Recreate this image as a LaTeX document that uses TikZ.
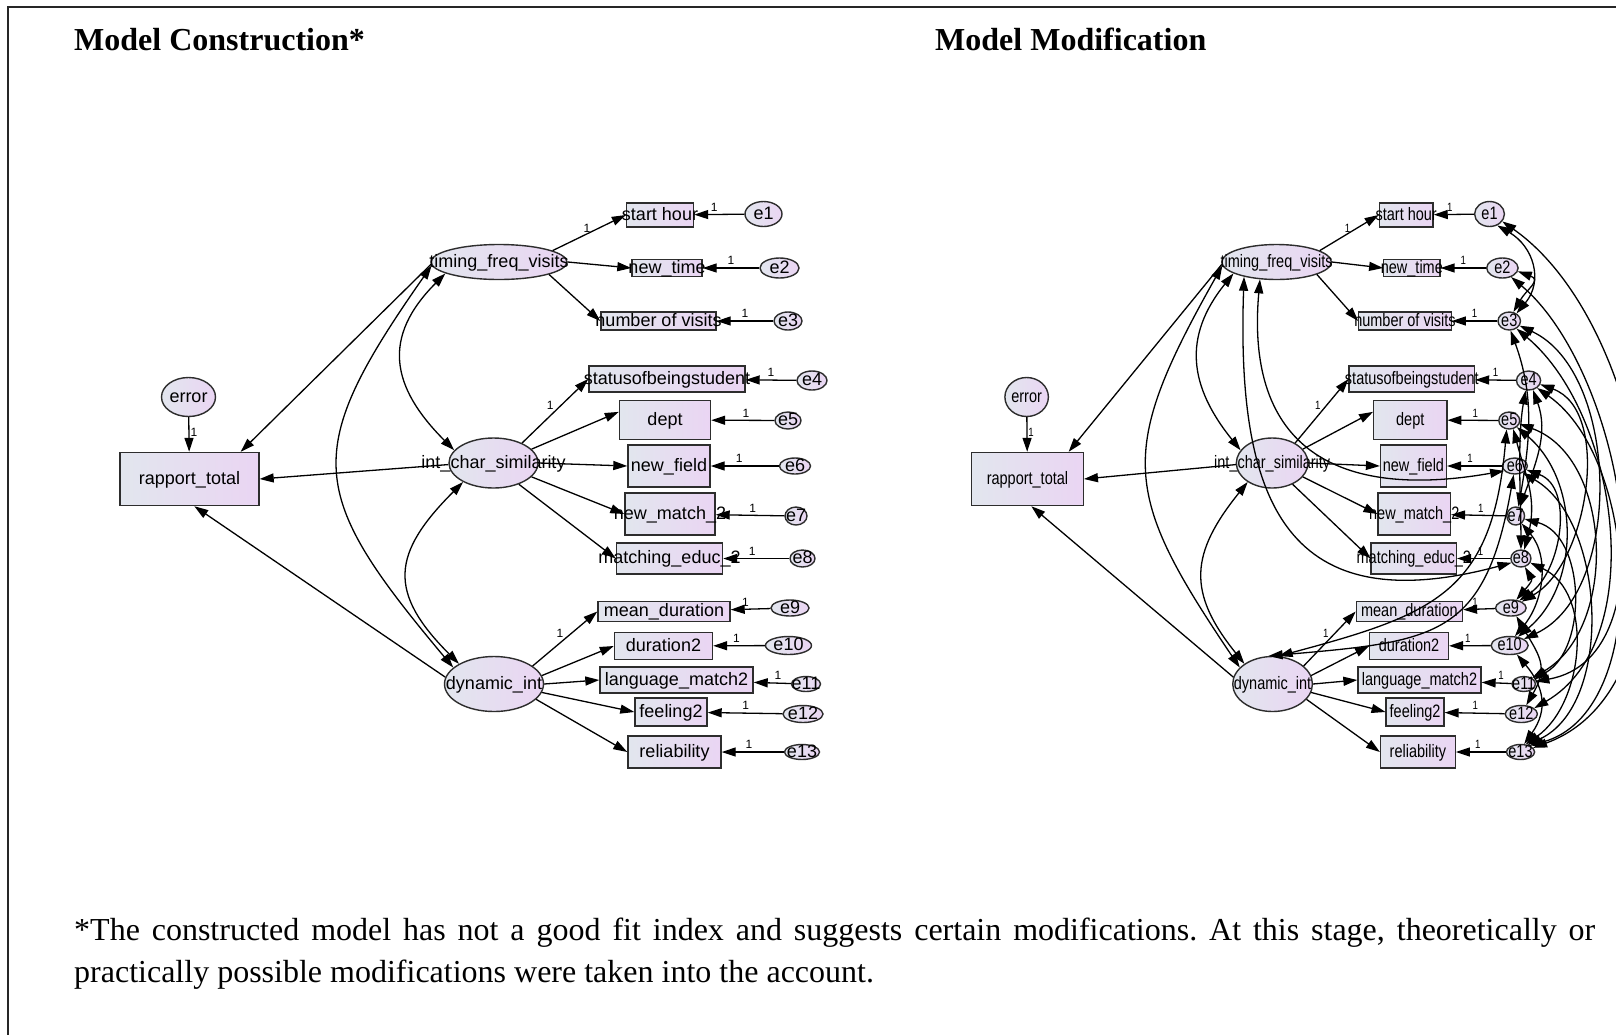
\documentclass[tikz,border=0pt]{standalone}
\usepackage{fontspec}
\setmainfont{Liberation Serif}
\newfontfamily\arialfont{Liberation Sans}
\usetikzlibrary{shapes.geometric,arrows.meta}
\definecolor{gL}{RGB}{226,230,238}
\definecolor{gR}{RGB}{234,213,243}
\definecolor{edgegray}{RGB}{45,45,45}
\frenchspacing
\newcommand\semtxt[1]{\raisebox{-0.3em}[0pt][0pt]{\makebox[0pt]{#1}}}
\newcommand\labfont{\arialfont\fontsize{18}{20}\selectfont}
\newcommand\onefont{\arialfont\fontsize{12}{14}\selectfont}
\tikzset{
 obs/.style={rectangle, draw=edgegray, line width=1.4pt, left color=gL, right color=gR, inner sep=0pt, font=\labfont},
 lat/.style={ellipse, draw=edgegray, line width=1.4pt, left color=gL, right color=gR, inner sep=0pt, font=\labfont},
 pth/.style={line width=1.3pt, -{Triangle[length=14pt,width=9pt]}},
 cov/.style={line width=1.3pt, {Triangle[length=14pt,width=9pt]}-{Triangle[length=14pt,width=9pt]}},
 one/.style={font=\onefont, inner sep=1pt},
 onee/.style={one, above, yshift=1.5pt},
}
\newcommand\semdiagram[1]{%
\node[obs, minimum width=139pt, minimum height=53pt] (#1rap) at (189.5,-479) {\semtxt{rapport\_total}};
\node[lat, minimum width=54pt, minimum height=39pt] (#1err) at (188.5,-397) {\semtxt{error}};
\node[lat, minimum width=136pt, minimum height=35pt] (#1tim) at (499,-262) {\semtxt{timing\_freq\_visits}};
\node[lat, minimum width=89pt, minimum height=50pt] (#1ics) at (493.5,-463) {\semtxt{int\_char\_similarity}};
\node[lat, minimum width=99pt, minimum height=55pt] (#1dyn) at (494,-684) {\semtxt{dynamic\_int}};
\node[obs, minimum width=67pt, minimum height=24pt] (#1sh) at (660,-215) {\semtxt{start hour}};
\node[obs, minimum width=70pt, minimum height=17pt] (#1nt) at (667,-268) {\semtxt{new\_time}};
\node[obs, minimum width=115pt, minimum height=18pt] (#1nv) at (658.5,-321) {\semtxt{number of visits}};
\node[obs, minimum width=156pt, minimum height=26pt] (#1st) at (667,-379) {\semtxt{statusofbeingstudent}};
\node[obs, minimum width=91pt, minimum height=39pt] (#1dp) at (665,-420) {\semtxt{dept}};
\node[obs, minimum width=82pt, minimum height=42pt] (#1nf) at (669,-466) {\semtxt{new\_field}};
\node[obs, minimum width=90pt, minimum height=42pt] (#1nm) at (670,-514) {\semtxt{new\_match\_2}};
\node[obs, minimum width=106pt, minimum height=31pt] (#1me) at (669.5,-558.5) {\semtxt{matching\_educ\_2}};
\node[obs, minimum width=132pt, minimum height=20pt] (#1md) at (664,-611.5) {\semtxt{mean\_duration}};
\node[obs, minimum width=98pt, minimum height=27pt] (#1d2) at (663.5,-646) {\semtxt{duration2}};
\node[obs, minimum width=153pt, minimum height=26pt] (#1lm) at (676.5,-680) {\semtxt{language\_match2}};
\node[obs, minimum width=72pt, minimum height=28pt] (#1f2) at (671,-712) {\semtxt{feeling2}};
\node[obs, minimum width=93pt, minimum height=32pt] (#1rl) at (674.5,-752) {\semtxt{reliability}};
\node[lat, minimum width=37pt, minimum height=25pt] (#1e1) at (763.5,-214) {\semtxt{e1}};
\node[lat, minimum width=39pt, minimum height=20pt] (#1e2) at (779.5,-268) {\semtxt{e2}};
\node[lat, minimum width=28pt, minimum height=18pt] (#1e3) at (788,-321) {\semtxt{e3}};
\node[lat, minimum width=30pt, minimum height=19pt] (#1e4) at (812,-380.5) {\semtxt{e4}};
\node[lat, minimum width=26pt, minimum height=17pt] (#1e5) at (788,-420.5) {\semtxt{e5}};
\node[lat, minimum width=31pt, minimum height=16pt] (#1e6) at (795,-466) {\semtxt{e6}};
\node[lat, minimum width=22pt, minimum height=18pt] (#1e7) at (796,-516) {\semtxt{e7}};
\node[lat, minimum width=25pt, minimum height=17pt] (#1e8) at (802.5,-558.5) {\semtxt{e8}};
\node[lat, minimum width=38pt, minimum height=16pt] (#1e9) at (790,-608) {\semtxt{e9}};
\node[lat, minimum width=46pt, minimum height=18pt] (#1e10) at (788.5,-645.5) {\semtxt{e10}};
\node[lat, minimum width=29pt, minimum height=15pt] (#1e11) at (806,-684) {\semtxt{e11}};
\node[lat, minimum width=40pt, minimum height=17pt] (#1e12) at (803,-714) {\semtxt{e12}};
\node[lat, minimum width=35pt, minimum height=15pt] (#1e13) at (802,-752) {\semtxt{e13}};
% structural paths
\draw[pth] (#1err) -- (#1rap) node[one, pos=0.45, right] {1};
\draw[pth] (#1tim.182) -- (#1rap.28);
\draw[pth] (#1ics.182) -- (#1rap.east);
\draw[pth] (#1dyn.172) -- (#1rap.280);
\draw[cov] (#1tim.192) to[out=225,in=135,looseness=1.3] (#1ics.162);
\draw[cov] (#1ics.212) to[out=225,in=135,looseness=1.42] (#1dyn.150);
\draw[cov] (#1tim.183) to[out=235,in=130,looseness=1.45] (#1dyn.158);
% loadings
\draw[pth] (#1tim.12) -- (#1sh.west) node[one, pos=0.47, above] {1};
\draw[pth] (#1tim.east) -- (#1nt.west);
\draw[pth] (#1tim.-14) -- (#1nv.west);
\draw[pth] (#1ics.35) -- (#1st.west) node[one, pos=0.5, above left] {1};
\draw[pth] (#1ics.20) -- (#1dp.170);
\draw[pth] (#1ics.east) -- (#1nf.west);
\draw[pth] (#1ics.-20) -- (#1nm.west);
\draw[pth] (#1ics.-40) -- (#1me.west);
\draw[pth] (#1dyn.25) -- (#1md.west) node[one, pos=0.5, above left] {1};
\draw[pth] (#1dyn.10) -- (#1d2.west);
\draw[pth] (#1dyn.east) -- (#1lm.west);
\draw[pth] (#1dyn.-10) -- (#1f2.west);
\draw[pth] (#1dyn.-20) -- (#1rl.west);
% errors
\draw[pth] (#1e1) -- (#1sh) node[onee, pos=0.6] {1};
\draw[pth] (#1e2) -- (#1nt) node[onee, pos=0.5] {1};
\draw[pth] (#1e3) -- (#1nv) node[onee, pos=0.5] {1};
\draw[pth] (#1e4) -- (#1st) node[onee, pos=0.5] {1};
\draw[pth] (#1e5) -- (#1dp) node[onee, pos=0.45] {1};
\draw[pth] (#1e6) -- (#1nf) node[onee, pos=0.58] {1};
\draw[pth] (#1e7) -- (#1nm) node[onee, pos=0.46] {1};
\draw[pth] (#1e8) -- (#1me) node[onee, pos=0.56] {1};
\draw[pth] (#1e9) -- (#1md) node[onee, pos=0.63] {1};
\draw[pth] (#1e10) -- (#1d2) node[onee, pos=0.55] {1};
\draw[pth] (#1e11) -- (#1lm) node[onee, pos=0.35] {1};
\draw[pth] (#1e12) -- (#1f2) node[onee, pos=0.49] {1};
\draw[pth] (#1e13) -- (#1rl) node[onee, pos=0.56] {1};
}
\begin{document}
\begin{tikzpicture}[x=1pt,y=1pt]
\path[use as bounding box] (0,0) rectangle (1616,-1034);
\clip (0,0) rectangle (1616,-1034);
\fill[white] (0,0) rectangle (1616,-1034);
\draw[line width=2.5pt, black!85] (8,-1040) -- (8,-7) -- (1625,-7);
\node[anchor=base west, inner sep=0pt, font=\bfseries\fontsize{32}{38}\selectfont] (t1) at (74,-50) {Model Construction*};
\node[anchor=base west, inner sep=0pt, font=\bfseries\fontsize{32}{38}\selectfont] (t2) at (935,-50) {Model Modification};
\begin{scope}
\semdiagram{L}
\end{scope}
\begin{scope}[xshift=874.9pt, xscale=0.805, transform shape]
\semdiagram{R}
\end{scope}
% modification covariances
\draw[cov] (Rtim.220) to[out=265,in=190,looseness=1.4] (Re6.200);
\draw[cov] (Rtim.200) to[out=268,in=195,looseness=1.5] (Re8.200);
\draw[cov] (Rdyn.100) to[out=5,in=-100,looseness=1.4] (Re6.-100);
\draw[cov] (Rdyn.75) to[out=15,in=-95,looseness=1.3] (Re5.-110);
\draw[cov] (Re1.-50) to[out=-30,in=50,looseness=1.2] (Re3.40);
\draw[cov] (Re2.-10) to[out=-20,in=60,looseness=1.6] (Re3.60);
\draw[cov] (Re1.-25) to[out=-35,in=20,looseness=0.9] (Re13.15);
\draw[cov] (Re3.-20) to[out=-25,in=25,looseness=0.9] (Re10.20);
\draw[cov] (Re3.-40) to[out=-40,in=30,looseness=0.9] (Re12.20);
\draw[cov] (Re3.-80) to[out=-70,in=80,looseness=1.0] (Re7.70);
\draw[cov] (Re4.-15) to[out=-20,in=30,looseness=0.9] (Re9.25);
\draw[cov] (Re4.-35) to[out=-35,in=15,looseness=0.9] (Re13.30);
\draw[cov] (Re4.-110) to[out=-100,in=90,looseness=0.8] (Re8.90);
\draw[cov] (Re4.-60) to[out=-70,in=70,looseness=1.0] (Re7.60);
\draw[cov] (Re5.-15) to[out=-20,in=30,looseness=1.0] (Re11.30);
\draw[cov] (Re5.-35) to[out=-40,in=40,looseness=1.0] (Re10.40);
\draw[cov] (Re5.-60) to[out=-75,in=75,looseness=1.1] (Re8.65);
\draw[cov] (Re6.-15) to[out=-20,in=35,looseness=1.0] (Re9.35);
\draw[cov] (Re6.-35) to[out=-30,in=25,looseness=0.9] (Re13.40);
\draw[cov] (Re7.-15) to[out=-15,in=30,looseness=1.0] (Re11.20);
\draw[cov] (Re7.-45) to[out=-50,in=50,looseness=1.0] (Re10.55);
\draw[cov] (Re8.-20) to[out=-25,in=35,looseness=1.0] (Re13.50);
\draw[cov] (Re8.-60) to[out=-60,in=50,looseness=1.2] (Re9.50);
\draw[cov] (Re9.-50) to[out=-60,in=60,looseness=1.3] (Re12.55);
\draw[cov] (Re10.-45) to[out=-50,in=55,looseness=1.2] (Re13.60);
\draw[cov] (Re2.-40) to[out=-40,in=10,looseness=0.9] (Re11.10);
% footnote
\node[anchor=base west, inner sep=0pt, font=\fontsize{32}{38}\selectfont] (n1) at (74,-940) {\makebox[1521pt][s]{*The constructed model has not a good fit index and suggests certain modifications. At this stage, theoretically or}};
\node[anchor=base west, inner sep=0pt, font=\fontsize{32}{38}\selectfont] (n2) at (74,-982) {practically possible modifications were taken into the account.};
\end{tikzpicture}
\end{document}
